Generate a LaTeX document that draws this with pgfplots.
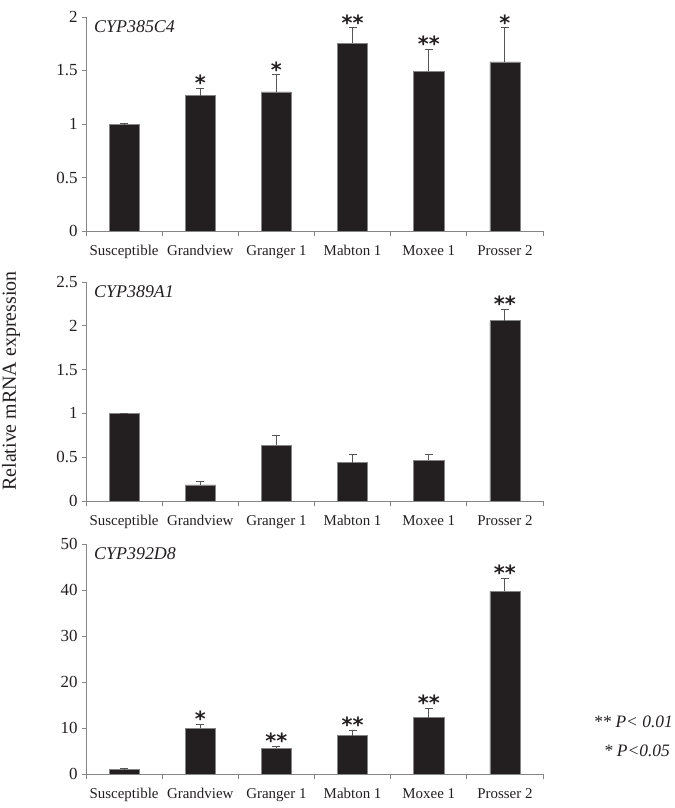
\documentclass[border=0pt]{standalone}
\usepackage{fontspec}
\setmainfont{Liberation Serif}
\newfontfamily\astfont{DejaVu Sans}
\usepackage{pgfplots}
\usepackage{pgfplotstable}
\pgfplotsset{compat=1.18}
\definecolor{barfill}{HTML}{231F20}
\definecolor{axgray}{HTML}{858585}
\definecolor{errgray}{HTML}{555555}
\definecolor{txt}{HTML}{231F20}

\pgfplotstableread{
x y err lab
0 1.000 0.004 {}
1 1.265 0.070 *
2 1.300 0.160 *
3 1.755 0.145 **
4 1.495 0.205 **
5 1.580 0.320 *
}\tA
\pgfplotstableread{
x y err lab
0 1.000 0.004 {}
1 0.183 0.045 {}
2 0.636 0.115 {}
3 0.438 0.090 {}
4 0.465 0.070 {}
5 2.060 0.130 **
}\tB
\pgfplotstableread{
x y err lab
0 1.00 0.10 {}
1 9.93 0.95 *
2 5.58 0.45 **
3 8.33 1.15 **
4 12.25 2.00 **
5 39.70 2.90 **
}\tC

\pgfplotsset{
  panel/.style={
    scale only axis, width=457bp,
    xmin=-0.5, xmax=5.5, ymin=0,
    axis lines*=left,
    axis line style={axgray, line width=0.9bp},
    tick align=outside,
    major tick length=4bp, minor tick length=5bp,
    tick style={axgray, line width=0.9bp},
    xtick={0,1,2,3,4,5},
    xticklabels={Susceptible,Grandview,Granger 1,Mabton 1,Moxee 1,Prosser 2},
    minor xtick={-0.5,0.5,1.5,2.5,3.5,4.5,5.5},
    major x tick style={draw=none},
    xticklabel style={font=\fontsize{15}{15}\selectfont, text=txt, yshift=-7bp},
    yticklabel style={font=\fontsize{17}{17}\selectfont, text=txt, xshift=-1bp},
    /pgf/number format/assume math mode=true,
    clip=false,
  },
  bars/.style={
    ybar, bar width=30bp, bar shift=0pt,
    fill=barfill, draw=axgray, line width=0.5bp,
    error bars/.cd, y dir=plus, y explicit,
    error bar style={errgray, line width=0.9bp},
    error mark options={rotate=90, errgray, mark size=4bp, line width=0.9bp},
  },
  stars/.style={
    draw=none, mark=none, nodes near coords, point meta=explicit symbolic,
    every node near coord/.append style={font=\astfont\bfseries\fontsize{21}{21}\selectfont, text=txt, anchor=base, yshift=-2.5bp, inner sep=0pt},
  },
}

\begin{document}
\begin{tikzpicture}
\path[use as bounding box] (0,0) rectangle (675bp,-808bp);

% Panel 1
\begin{axis}[panel, at={(86bp,-231bp)}, anchor=south west, height=214bp,
  ymax=2, ytick={0,0.5,1,1.5,2}]
\addplot[bars] table[x=x, y=y, y error=err] {\tA};
\addplot[stars] table[x=x, y expr=\thisrow{y}+\thisrow{err}, meta=lab] {\tA};
\node[anchor=north west, inner sep=0pt, font=\itshape\fontsize{18}{18}\selectfont, text=txt] at (rel axis cs:0,1) [xshift=8bp, yshift=-3bp] {CYP385C4};
\end{axis}

% Panel 2
\begin{axis}[panel, at={(86bp,-501bp)}, anchor=south west, height=219bp,
  ymax=2.5, ytick={0,0.5,1,1.5,2,2.5}]
\addplot[bars] table[x=x, y=y, y error=err] {\tB};
\addplot[stars] table[x=x, y expr=\thisrow{y}+\thisrow{err}, meta=lab] {\tB};
\node[anchor=north west, inner sep=0pt, font=\itshape\fontsize{18}{18}\selectfont, text=txt] at (rel axis cs:0,1) [xshift=8bp, yshift=-3bp] {CYP389A1};
\end{axis}

% Panel 3
\begin{axis}[panel, at={(86bp,-774bp)}, anchor=south west, height=230bp,
  ymax=50, ytick={0,10,20,30,40,50}]
\addplot[bars] table[x=x, y=y, y error=err] {\tC};
\addplot[stars] table[x=x, y expr=\thisrow{y}+\thisrow{err}, meta=lab] {\tC};
\node[anchor=north west, inner sep=0pt, font=\itshape\fontsize{18}{18}\selectfont, text=txt] at (rel axis cs:0,1) [xshift=8bp, yshift=-3bp] {CYP392D8};
\end{axis}

\node[rotate=90, font=\fontsize{20}{20}\selectfont, text=txt] at (11bp,-381bp) {Relative mRNA expression};
\node[anchor=east, font=\itshape\fontsize{17.5}{17.5}\selectfont, text=txt, inner sep=0pt] at (673bp,-722bp) {** P< 0.01};
\node[anchor=east, font=\itshape\fontsize{17.5}{17.5}\selectfont, text=txt, inner sep=0pt] at (670bp,-751bp) {* P<0.05};
\end{tikzpicture}
\end{document}
